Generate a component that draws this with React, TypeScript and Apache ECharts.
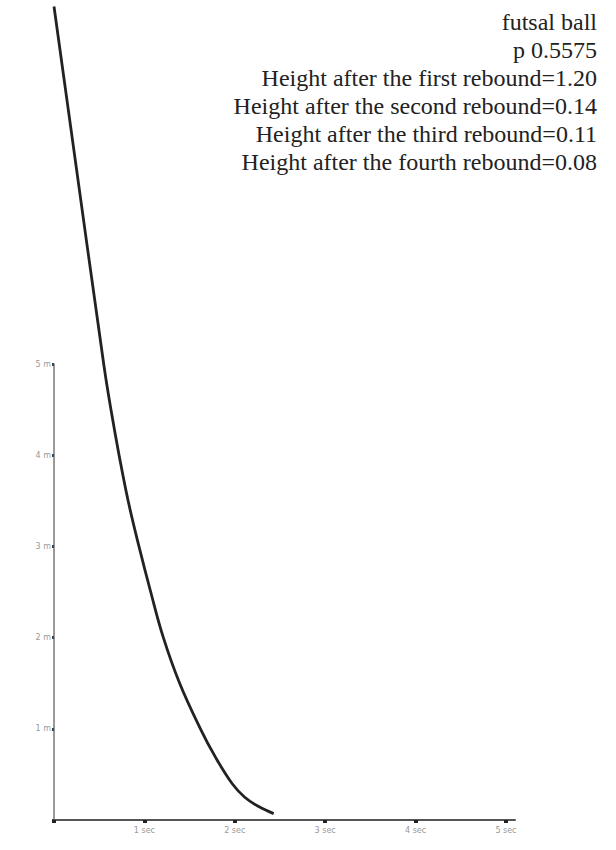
import React, { useEffect, useRef } from "react";
import * as echarts from "echarts";

const timeValues = [0, 0.55, 0.63, 0.72, 0.82, 0.94, 1.07, 1.21, 1.39, 1.62, 1.78, 1.97, 2.11, 2.26, 2.43];
const heightValues = [8.92, 5.0, 4.5, 4.0, 3.5, 3.0, 2.5, 2.0, 1.5, 1.0, 0.7, 0.4, 0.25, 0.15, 0.07];
const xTickLabels = ["", "1 sec", "2 sec", "3 sec", "4 sec", "5 sec"];
const yTickLabels = ["", "1 m", "2 m", "3 m", "4 m", "5 m"];
const infoLines = [
  "futsal ball",
  "p 0.5575",
  "Height after the first rebound=1.20",
  "Height after the second rebound=0.14",
  "Height after the third rebound=0.11",
  "Height after the fourth rebound=0.08",
];

export default function App() {
  const ref = useRef<HTMLDivElement>(null);
  useEffect(() => {
    if (!ref.current) return;
    const chart = echarts.init(ref.current, undefined, { renderer: "svg" });
    const data = timeValues.map((t, i) => [t, heightValues[i]]);
    chart.setOption({
      animation: false,
      backgroundColor: "#ffffff",
      grid: { left: 54, right: 616 - 515, top: 364, bottom: 850 - 820 },
      xAxis: {
        type: "value",
        min: 0,
        max: 5.1,
        interval: 1,
        splitLine: { show: false },
        axisLine: { show: true, lineStyle: { color: "#555", width: 2 } },
        axisTick: { show: true, length: 3, inside: false, lineStyle: { color: "#222", width: 4 } },
        axisLabel: {
          color: "#999",
          fontSize: 8,
          fontFamily: "DejaVu Sans",
          margin: 6,
          formatter: (v: number) => xTickLabels[Math.round(v)] ?? "",
        },
      },
      yAxis: {
        type: "value",
        min: 0,
        max: 5,
        interval: 1,
        splitLine: { show: false },
        axisLine: { show: true, lineStyle: { color: "#777", width: 1.5 } },
        axisTick: { show: true, length: 2, lineStyle: { color: "#444", width: 3 } },
        axisLabel: {
          color: "#999",
          fontSize: 8,
          fontFamily: "DejaVu Sans",
          margin: 3,
          formatter: (v: number) => yTickLabels[Math.round(v)] ?? "",
        },
      },
      series: [
        {
          type: "line",
          data,
          smooth: 0.4,
          clip: false,
          showSymbol: false,
          lineStyle: { color: "#222", width: 2.8 },
        },
      ],
      graphic: infoLines.map((line, i) => ({
        type: "text",
        right: 19,
        top: 10 + i * 28,
        style: {
          text: line,
          fill: "#222",
          font: '24px "Liberation Serif"',
          textAlign: "right",
        },
      })),
    });
    return () => chart.dispose();
  }, []);
  return (
    <div
      ref={ref}
      style={{ position: "fixed", left: 0, top: 0, width: 616, height: 850 }}
    />
  );
}
